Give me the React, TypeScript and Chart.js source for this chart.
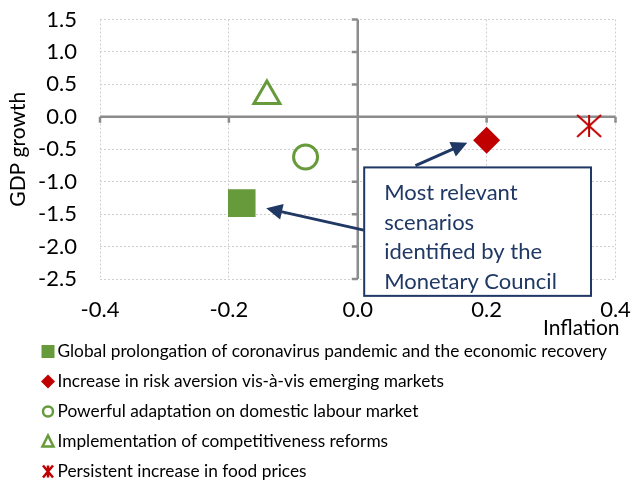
import React, { useEffect, useRef } from 'react';
import { Chart, registerables } from 'chart.js';
Chart.register(...registerables);

// ---- data ----
const scenarioNames = [
  'Global prolongation of coronavirus pandemic and the economic recovery',
  'Increase in risk aversion vis-à-vis emerging markets',
  'Powerful adaptation on domestic labour market',
  'Implementation of competitiveness reforms',
  'Persistent increase in food prices',
];
const inflationValues = [-0.18, 0.2, -0.081, -0.141, 0.359];
const gdpValues = [-1.33, -0.36, -0.62, 0.32, -0.14];
const xTickRange = [-0.4, 0.4, 0.2]; // min, max, step
const yTickRange = [-2.5, 1.5, 0.5];
const xTitle = 'Inflation';
const yTitle = 'GDP growth';
const calloutLines = ['Most relevant', 'scenarios', 'identified by the', 'Monetary Council'];
// callout box corners and arrows in data coordinates
const calloutBox = [0.01, -0.78, 0.362, -2.76];
const arrowsData = [
  [0.0896, -0.751, 0.17, -0.40],
  [0.0093, -1.747, -0.142, -1.41],
];

// ---- styles ----
const GREEN = '#669A3A';
const RED = '#C00000';
const NAVY = '#1F3864';
const AXIS = '#8C8C8C';
const GRID = '#CFCFCF';
const FONT = 'Lato, "Open Sans", sans-serif';

function makeStar(w: number, h: number, color: string, lw: number) {
  const c = document.createElement('canvas');
  c.width = w + 4;
  c.height = h + 4;
  const g = c.getContext('2d')!;
  g.strokeStyle = color;
  g.lineWidth = lw;
  g.beginPath();
  g.moveTo(2, 2); g.lineTo(w + 2, h + 2);
  g.moveTo(w + 2, 2); g.lineTo(2, h + 2);
  g.moveTo(w / 2 + 2, 2); g.lineTo(w / 2 + 2, h + 2);
  g.stroke();
  return c;
}

function drawArrow(ctx: CanvasRenderingContext2D, x1: number, y1: number, x2: number, y2: number) {
  const ang = Math.atan2(y2 - y1, x2 - x1);
  const hl = 16, hw = 8;
  const bx = x2 - hl * Math.cos(ang), by = y2 - hl * Math.sin(ang);
  ctx.beginPath();
  ctx.moveTo(x1, y1);
  ctx.lineTo(bx + 2 * Math.cos(ang), by + 2 * Math.sin(ang));
  ctx.stroke();
  ctx.beginPath();
  ctx.moveTo(x2, y2);
  ctx.lineTo(bx + hw * Math.sin(ang), by - hw * Math.cos(ang));
  ctx.lineTo(bx - hw * Math.sin(ang), by + hw * Math.cos(ang));
  ctx.closePath();
  ctx.fill();
}

function legendMarker(ctx: CanvasRenderingContext2D, i: number, cx: number, cy: number) {
  ctx.save();
  ctx.lineWidth = 2.5;
  if (i === 0) {
    ctx.fillStyle = GREEN;
    ctx.fillRect(cx - 6.5, cy - 6.5, 13, 13);
  } else if (i === 1) {
    ctx.fillStyle = RED;
    ctx.beginPath();
    ctx.moveTo(cx, cy - 7); ctx.lineTo(cx + 7, cy); ctx.lineTo(cx, cy + 7); ctx.lineTo(cx - 7, cy);
    ctx.closePath(); ctx.fill();
  } else if (i === 2) {
    ctx.strokeStyle = GREEN;
    ctx.beginPath(); ctx.arc(cx, cy, 5, 0, Math.PI * 2); ctx.stroke();
  } else if (i === 3) {
    ctx.strokeStyle = GREEN;
    ctx.beginPath();
    ctx.moveTo(cx, cy - 6); ctx.lineTo(cx + 5.5, cy + 5); ctx.lineTo(cx - 5.5, cy + 5);
    ctx.closePath(); ctx.stroke();
  } else {
    ctx.strokeStyle = RED;
    ctx.lineWidth = 2.5;
    ctx.beginPath();
    ctx.moveTo(cx - 5, cy - 6); ctx.lineTo(cx + 5, cy + 6);
    ctx.moveTo(cx + 5, cy - 6); ctx.lineTo(cx - 5, cy + 6);
    ctx.moveTo(cx, cy - 6); ctx.lineTo(cx, cy + 6);
    ctx.stroke();
  }
  ctx.restore();
}

const overlay = {
  id: 'overlay',
  beforeDatasetsDraw(chart: any) {
    const { ctx, chartArea: a, scales } = chart;
    const x = scales.x, y = scales.y;
    const x0 = x.getPixelForValue(0), y0 = y.getPixelForValue(0);
    ctx.save();
    ctx.strokeStyle = AXIS;
    ctx.lineWidth = 2.5;
    ctx.beginPath();
    ctx.moveTo(x0, a.top); ctx.lineTo(x0, a.bottom);
    ctx.moveTo(a.left, y0); ctx.lineTo(a.right, y0);
    y.ticks.forEach((t: any) => {
      const py = y.getPixelForValue(t.value);
      ctx.moveTo(x0 - 6, py); ctx.lineTo(x0, py);
    });
    x.ticks.forEach((t: any) => {
      const px = x.getPixelForValue(t.value);
      ctx.moveTo(px, y0); ctx.lineTo(px, y0 + 6);
    });
    ctx.stroke();
    ctx.restore();
  },
  afterDraw(chart: any) {
    const { ctx, chartArea: a, scales } = chart;
    const x = scales.x, y = scales.y;
    ctx.save();
    // arrows
    ctx.strokeStyle = NAVY;
    ctx.fillStyle = NAVY;
    ctx.lineWidth = 3;
    arrowsData.forEach(([ax1, ay1, ax2, ay2]) => {
      drawArrow(ctx, x.getPixelForValue(ax1), y.getPixelForValue(ay1), x.getPixelForValue(ax2), y.getPixelForValue(ay2));
    });
    // callout box
    const bl = x.getPixelForValue(calloutBox[0]);
    const bt = y.getPixelForValue(calloutBox[1]);
    const br = x.getPixelForValue(calloutBox[2]);
    const bb = y.getPixelForValue(calloutBox[3]);
    ctx.fillStyle = '#ffffff';
    ctx.fillRect(bl, bt, br - bl, bb - bt);
    ctx.lineWidth = 2;
    ctx.strokeStyle = NAVY;
    ctx.strokeRect(bl, bt, br - bl, bb - bt);
    ctx.fillStyle = NAVY;
    ctx.font = `22px ${FONT}`;
    ctx.textAlign = 'left';
    ctx.textBaseline = 'alphabetic';
    calloutLines.forEach((s, i) => ctx.fillText(s, bl + 20, bt + 33 + i * 29.5));
    // x-axis title
    ctx.font = `21px ${FONT}`;
    ctx.fillStyle = '#000';
    ctx.textAlign = 'right';
    ctx.textBaseline = 'middle';
    ctx.fillText(xTitle, a.right + 4, a.bottom + 49);
    // legend
    ctx.font = `17.3px ${FONT}`;
    ctx.textAlign = 'left';
    scenarioNames.forEach((s, i) => {
      const cy = 351.5 + i * 30;
      legendMarker(ctx, i, 48, cy);
      ctx.fillStyle = '#000';
      ctx.fillText(s, 57.5, cy);
    });
    ctx.restore();
  },
};

export default function App() {
  const ref = useRef<HTMLCanvasElement>(null);
  useEffect(() => {
    document.body.style.margin = '0';
    const star = makeStar(24, 22, RED, 2);
    const styles = [
      { pointStyle: 'rect', radius: 19.5, backgroundColor: GREEN, borderColor: GREEN, borderWidth: 0 },
      { pointStyle: 'rectRot', radius: 13.5, backgroundColor: RED, borderColor: RED, borderWidth: 0 },
      { pointStyle: 'circle', radius: 12, backgroundColor: '#ffffff', borderColor: GREEN, borderWidth: 3 },
      { pointStyle: 'triangle', radius: 15, backgroundColor: '#ffffff', borderColor: GREEN, borderWidth: 3 },
      { pointStyle: star, radius: 12, backgroundColor: RED, borderColor: RED, borderWidth: 0 },
    ];
    const noPad = (s: any) => {
      s.paddingTop = 0; s.paddingBottom = 0; s.paddingLeft = 0; s.paddingRight = 0;
    };
    const chart = new Chart(ref.current!, {
      type: 'scatter',
      data: {
        datasets: scenarioNames.map((name, i) => ({
          label: name,
          data: [{ x: inflationValues[i], y: gdpValues[i] }],
          pointStyle: styles[i].pointStyle as any,
          pointRadius: styles[i].radius,
          pointBackgroundColor: styles[i].backgroundColor,
          pointBorderColor: styles[i].borderColor,
          pointBorderWidth: styles[i].borderWidth,
        })),
      },
      options: {
        animation: false,
        responsive: false,
        events: [],
        layout: { padding: { top: 18, right: 17, left: 0, bottom: 0 } },
        plugins: { legend: { display: false }, tooltip: { enabled: false } },
        scales: {
          x: {
            type: 'linear',
            min: xTickRange[0],
            max: xTickRange[1],
            ticks: {
              stepSize: xTickRange[2],
              color: '#000',
              font: { family: FONT, size: 22 },
              padding: 18,
              maxRotation: 0,
              callback: (v: any) => Number(v).toFixed(1),
            },
            grid: { color: GRID, lineWidth: 1, drawTicks: false },
            border: { display: false, dash: [2, 2] },
            afterFit: (s: any) => { s.height = 205; noPad(s); },
          },
          y: {
            type: 'linear',
            min: yTickRange[0],
            max: yTickRange[1],
            ticks: {
              stepSize: yTickRange[2],
              color: '#000',
              font: { family: FONT, size: 22 },
              padding: 23,
              callback: (v: any) => Number(v).toFixed(1),
            },
            title: {
              display: true,
              text: yTitle,
              color: '#000',
              font: { family: FONT, size: 21 },
              padding: { top: 6, bottom: 0 },
            },
            grid: { color: GRID, lineWidth: 1, drawTicks: false },
            border: { display: false, dash: [2, 2] },
            afterFit: (s: any) => { s.width = 100; noPad(s); },
          },
        },
      },
      plugins: [overlay],
    });
    return () => chart.destroy();
  }, []);
  return (
    <div style={{ width: 635, height: 484, background: '#fff' }}>
      <canvas ref={ref} width={635} height={484} style={{ display: 'block' }} />
    </div>
  );
}
